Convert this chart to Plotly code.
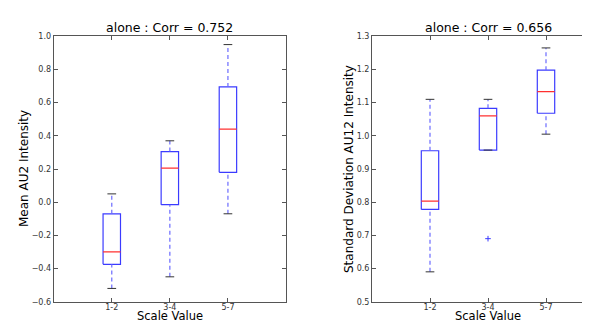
import plotly.graph_objects as go

categories = ["1-2", "3-4", "5-7"]

# Left: Mean AU2 Intensity
mean_lower = [-0.52, -0.45, -0.07]
mean_q1 = [-0.375, -0.015, 0.18]
mean_median = [-0.30, 0.205, 0.44]
mean_q3 = [-0.07, 0.305, 0.695]
mean_upper = [0.05, 0.37, 0.95]
mean_outliers = [[], [], []]

# Right: Standard Deviation AU12 Intensity
std_lower = [0.59, 0.957, 1.005]
std_q1 = [0.778, 0.957, 1.068]
std_median = [0.803, 1.06, 1.133]
std_q3 = [0.955, 1.083, 1.198]
std_upper = [1.11, 1.11, 1.265]
std_outliers = [[], [0.69], []]

titles = ["alone : Corr = 0.752", "alone : Corr = 0.656"]
ytitles = ["Mean AU2 Intensity", "Standard Deviation AU12 Intensity"]
xtitle = "Scale Value"

W, H = 590, 323
FONT = "DejaVu Sans"
BOX_BLUE = "#3b3bff"
WHISK_BLUE = "#6a6aff"
HALF_W = 0.15
CAP_W = 0.075

fig = go.Figure()


def add_boxes(lower, q1, med, q3, upper, outliers, xa, ya):
    for i, cat in enumerate(categories):
        p = i + 1
        # box
        fig.add_trace(go.Scatter(
            x=[p - HALF_W, p + HALF_W, p + HALF_W, p - HALF_W, p - HALF_W],
            y=[q1[i], q1[i], q3[i], q3[i], q1[i]],
            mode="lines", line=dict(color=BOX_BLUE, width=1.2),
            xaxis=xa, yaxis=ya, showlegend=False, hoverinfo="skip"))
        # whiskers
        fig.add_trace(go.Scatter(
            x=[p, p, None, p, p],
            y=[lower[i], q1[i], None, q3[i], upper[i]],
            mode="lines", line=dict(color=WHISK_BLUE, width=1.2, dash="4px,3px"),
            xaxis=xa, yaxis=ya, showlegend=False, hoverinfo="skip"))
        # caps
        fig.add_trace(go.Scatter(
            x=[p - CAP_W, p + CAP_W, None, p - CAP_W, p + CAP_W],
            y=[lower[i], lower[i], None, upper[i], upper[i]],
            mode="lines", line=dict(color="#333333", width=1),
            xaxis=xa, yaxis=ya, showlegend=False, hoverinfo="skip"))
        # median
        fig.add_trace(go.Scatter(
            x=[p - HALF_W, p + HALF_W], y=[med[i], med[i]],
            mode="lines", line=dict(color="#ff3030", width=1.2),
            xaxis=xa, yaxis=ya, showlegend=False, hoverinfo="skip"))
        if outliers[i]:
            fig.add_trace(go.Scatter(
                x=[p] * len(outliers[i]), y=outliers[i], mode="markers",
                marker=dict(symbol="cross-thin", size=4,
                            line=dict(color=BOX_BLUE, width=1)),
                xaxis=xa, yaxis=ya, showlegend=False, hoverinfo="skip"))


add_boxes(mean_lower, mean_q1, mean_median, mean_q3, mean_upper, mean_outliers, "x", "y")
add_boxes(std_lower, std_q1, std_median, std_q3, std_upper, std_outliers, "x2", "y2")

ydom = [(323 - 298) / H, (323 - 25) / H]
left_dom = [45.7 / W, 278 / W]
right_dom = [364 / W, 1.0]

axis_common = dict(showgrid=False, zeroline=False, showline=True, linecolor="#555555",
                   linewidth=1, ticks="inside", ticklen=4, tickcolor="#555555",
                   tickfont=dict(family=FONT, size=8, color="#333333"))

fig.update_layout(
    width=W, height=H, margin=dict(l=0, r=0, t=0, b=0),
    paper_bgcolor="white", plot_bgcolor="white", showlegend=False,
    xaxis=dict(domain=left_dom, range=[0, 4], tickvals=[1, 2, 3], ticktext=categories,
               mirror="allticks", anchor="y", ticklabelstandoff=-2, **axis_common),
    yaxis=dict(domain=ydom, range=[-0.6, 1.0], dtick=0.2, tick0=-0.6, tickformat=".1f",
               mirror="allticks", anchor="x", **axis_common),
    xaxis2=dict(domain=right_dom, range=[0, (590 - 364) / 58.0], tickvals=[1, 2, 3],
                ticktext=categories, mirror="allticks", anchor="y2", ticklabelstandoff=-2,
                **axis_common),
    yaxis2=dict(domain=ydom, range=[0.5, 1.3], dtick=0.1, tick0=0.5, tickformat=".1f",
                mirror=False, anchor="x2", **axis_common),
)

centers = [(45.7 + 278) / 2 / W, (364 + 596) / 2 / W]
ytitle_x = [16 / W, 341 / W]
ymid = (ydom[0] + ydom[1]) / 2
for k in range(2):
    fig.add_annotation(text=titles[k], x=centers[k], y=(H - 16) / H, xref="paper", yref="paper",
                       showarrow=False, xanchor="center", yanchor="middle",
                       font=dict(family=FONT, size=12.5, color="black"))
    fig.add_annotation(text=xtitle, x=centers[k], y=0, xref="paper", yref="paper",
                       showarrow=False, xanchor="center", yanchor="bottom", borderpad=0,
                       yshift=2, font=dict(family=FONT, size=11.5, color="black"))
    fig.add_annotation(text=ytitles[k], x=ytitle_x[k], y=ymid, xref="paper", yref="paper",
                       showarrow=False, xanchor="center", yanchor="middle", textangle=-90,
                       font=dict(family=FONT, size=12, color="black"))

fig.write_html("out.html")
